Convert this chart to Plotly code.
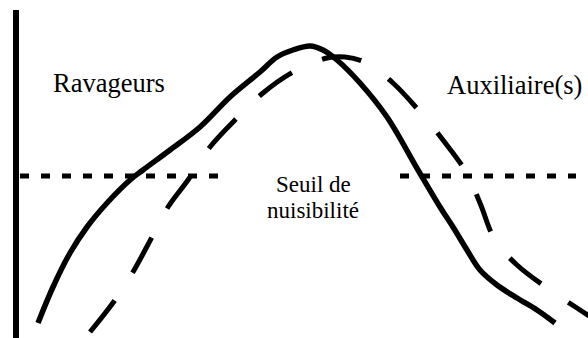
import plotly.graph_objects as go

# schematic population curves (x = time, y = population level)
pest_x = [38, 53, 70, 87, 107, 130, 143, 170, 200, 230, 260, 277, 293, 310, 323, 337, 360, 387,
          418, 440, 453, 467, 480, 497, 517, 537, 555]
pest_y = [15, 51, 85, 111, 135, 158, 168, 188, 211, 241, 266, 281, 288, 292, 288, 278, 255, 221,
          168, 131, 111, 88, 68, 53, 40, 28, 15]

aux_x = [90, 115, 133, 152, 168, 188, 210, 238, 263, 295, 327, 345, 367, 393, 421, 443, 466, 480,
         495, 517, 550, 577, 592]
aux_y = [6, 38, 66, 101, 131, 158, 191, 221, 245, 267, 280, 281, 275, 255, 225, 198, 166, 135,
         98, 73, 48, 30, 20]

threshold = 162
threshold_left = [20, 228]
threshold_right = [400, 576]
axis_x = 16
axis_top = 328

font = "Liberation Serif, Times New Roman, serif"

fig = go.Figure()

# vertical axis
fig.add_trace(go.Scatter(x=[axis_x, axis_x], y=[0, axis_top], mode="lines",
                         line=dict(color="black", width=6)))

# threshold (dotted), interrupted around the label
for seg in (threshold_left, threshold_right):
    fig.add_trace(go.Scatter(x=seg, y=[threshold, threshold], mode="lines",
                             line=dict(color="black", width=5, dash="9px,12px")))

# auxiliaries (dashed)
fig.add_trace(go.Scatter(x=aux_x, y=aux_y, mode="lines",
                         line=dict(color="black", width=5, dash="40px,33px", shape="spline")))

# pests (solid)
fig.add_trace(go.Scatter(x=pest_x, y=pest_y, mode="lines",
                         line=dict(color="black", width=5.5, shape="spline")))

fig.add_annotation(x=109, y=255, text="Ravageurs", showarrow=False,
                   font=dict(family=font, size=26.5, color="black"))
fig.add_annotation(x=514, y=253, text="Auxiliaire(s)", showarrow=False,
                   font=dict(family=font, size=26.5, color="black"))
fig.add_annotation(x=313, y=154, text="Seuil de", showarrow=False,
                   font=dict(family=font, size=23, color="black"))
fig.add_annotation(x=313, y=128, text="nuisibilité", showarrow=False,
                   font=dict(family=font, size=23, color="black"))

fig.update_layout(
    width=588, height=338,
    margin=dict(l=0, r=0, t=0, b=0),
    paper_bgcolor="white", plot_bgcolor="white",
    showlegend=False,
    xaxis=dict(range=[0, 588], visible=False, fixedrange=True),
    yaxis=dict(range=[0, 338], visible=False, fixedrange=True),
)

fig.write_html("out.html", config={"displayModeBar": False},
               post_script="document.body.style.margin='0';")
